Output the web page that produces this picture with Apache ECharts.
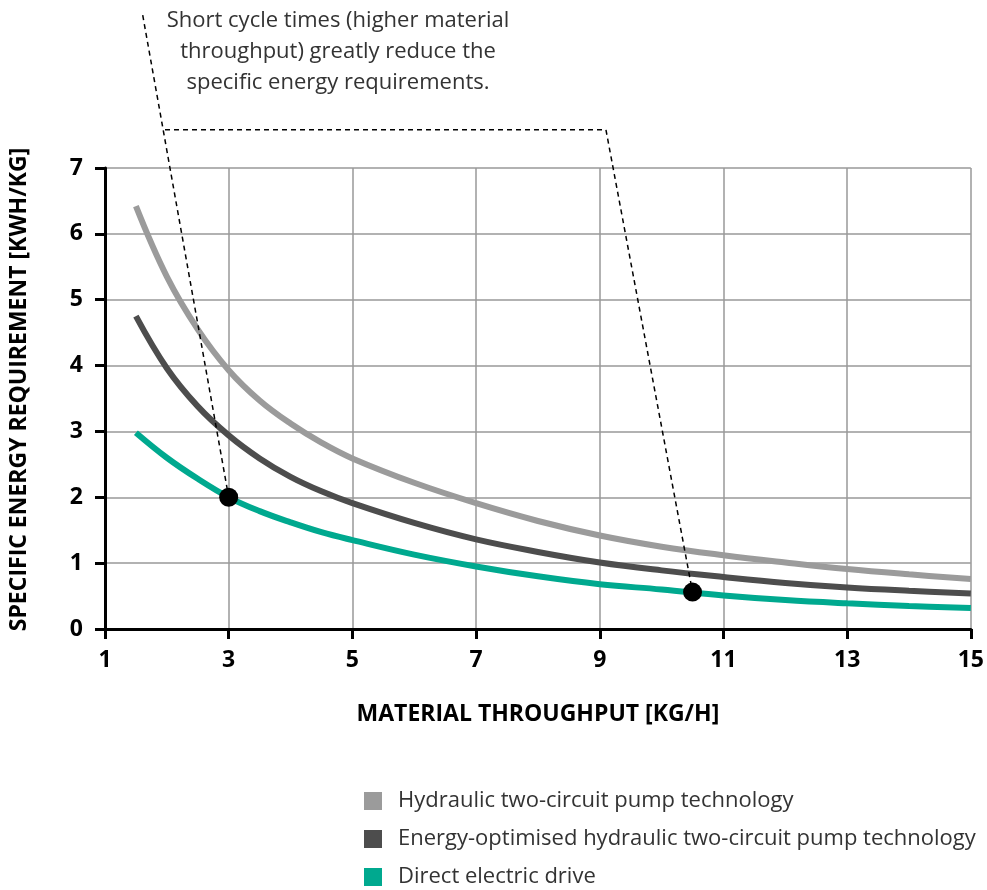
<!DOCTYPE html>
<html>
<head>
<meta charset="utf-8">
<script src="https://cdn.jsdelivr.net/npm/echarts@6/dist/echarts.min.js"></script>
<style>
html,body{margin:0;padding:0;background:#fff;}
#chart{width:987px;height:890px;}
</style>
</head>
<body>
<div id="chart"></div>
<script>
// ---- data ----
const throughput = [1.5, 2, 2.5, 3, 3.5, 4, 4.5, 5, 6, 7, 8, 9, 10, 11, 12, 13, 14, 15];
const hydraulic = [6.42, 5.35, 4.55, 3.93, 3.47, 3.12, 2.83, 2.59, 2.22, 1.91, 1.64, 1.42, 1.25, 1.12, 1.01, 0.91, 0.83, 0.76];
const optimised = [4.75, 3.96, 3.38, 2.94, 2.59, 2.31, 2.09, 1.91, 1.61, 1.36, 1.17, 1.01, 0.89, 0.79, 0.70, 0.63, 0.58, 0.54];
const directDrive = [2.98, 2.60, 2.28, 2.00, 1.79, 1.62, 1.47, 1.35, 1.13, 0.95, 0.80, 0.68, 0.60, 0.51, 0.44, 0.39, 0.35, 0.32];
const highlightPoints = [[3, 2.0], [10.5, 0.56]];
const annotationPath = [[1.61, 9.32], [3, 2.0], null, [1.97, 7.58], [9.1, 7.58], [10.5, 0.56]];
const seriesNames = ['Hydraulic two-circuit pump technology', 'Energy-optimised hydraulic two-circuit pump technology', 'Direct electric drive'];
const annotationText = 'Short cycle times (higher material\nthroughput) greatly reduce the\nspecific energy requirements.';
const xTitle = 'MATERIAL THROUGHPUT [KG/H]';
const yTitle = 'SPECIFIC ENERGY REQUIREMENT [KWH/KG]';

const colors = ['#9b9b9b', '#4d4d4d', '#00a98f'];
const font = '"Open Sans", "Noto Sans", sans-serif';

function pairs(ys) { return throughput.map((x, i) => [x, ys[i]]); }

const chart = echarts.init(document.getElementById('chart'), null, {renderer: 'canvas'});
chart.setOption({
  animation: false,
  backgroundColor: '#fff',
  textStyle: {fontFamily: font},
  grid: {left: 105, right: 14, top: 168, bottom: 261, containLabel: false},
  xAxis: {
    type: 'value', min: 1, max: 15, interval: 2,
    name: xTitle, nameLocation: 'middle', nameGap: 74,
    nameTextStyle: {fontFamily: font, fontWeight: 'bold', fontSize: 23, color: '#000'},
    axisLine: {show: true, onZero: false, lineStyle: {color: '#000', width: 3}},
    axisTick: {show: true, length: 10, lineStyle: {color: '#000', width: 3}},
    axisLabel: {fontFamily: font, fontWeight: 'bold', fontSize: 23, color: '#000', margin: 20},
    splitLine: {show: true, lineStyle: {color: '#999', width: 1.5}}
  },
  yAxis: {
    type: 'value', min: 0, max: 7, interval: 1,
    name: yTitle, nameLocation: 'middle', nameGap: 74, nameRotate: 90,
    nameTextStyle: {fontFamily: font, fontWeight: 'bold', fontSize: 23, color: '#000', padding: [0, 0, 0, 18]},
    axisLine: {show: true, onZero: false, lineStyle: {color: '#000', width: 3}},
    axisTick: {show: true, length: 10, lineStyle: {color: '#000', width: 3}},
    axisLabel: {fontFamily: font, fontWeight: 'bold', fontSize: 23, color: '#000', margin: 22},
    splitLine: {show: true, lineStyle: {color: '#999', width: 1.5}}
  },
  legend: {
    data: seriesNames,
    orient: 'vertical',
    left: 364, top: 790, padding: 0, height: 100,
    itemWidth: 18, itemHeight: 18, itemGap: 16,
    icon: 'rect',
    textStyle: {fontFamily: font, fontSize: 22, color: '#333', padding: [0, 0, 0, 11]}
  },
  graphic: [{
    type: 'text', x: 338, y: 5,
    style: {
      text: annotationText, fill: '#333', font: '22px ' + font,
      textAlign: 'center', textVerticalAlign: 'top', lineHeight: 31
    }
  }],
  series: [
    {name: seriesNames[0], type: 'line', data: pairs(hydraulic), smooth: 0.4, showSymbol: false,
     lineStyle: {color: colors[0], width: 6}, itemStyle: {color: colors[0]}, z: 3},
    {name: seriesNames[1], type: 'line', data: pairs(optimised), smooth: 0.4, showSymbol: false,
     lineStyle: {color: colors[1], width: 6}, itemStyle: {color: colors[1]}, z: 3},
    {name: seriesNames[2], type: 'line', data: pairs(directDrive), smooth: 0.4, showSymbol: false,
     lineStyle: {color: colors[2], width: 6}, itemStyle: {color: colors[2]}, z: 3},
    {name: 'annotation', type: 'line', data: annotationPath, clip: false, showSymbol: false,
     connectNulls: false, silent: true,
     lineStyle: {color: '#000', width: 1.5, type: [5, 4]}, z: 4},
    {name: 'points', type: 'scatter', data: highlightPoints, symbolSize: 19,
     itemStyle: {color: '#000', opacity: 1}, z: 5, silent: true}
  ]
});
</script>
</body>
</html>
